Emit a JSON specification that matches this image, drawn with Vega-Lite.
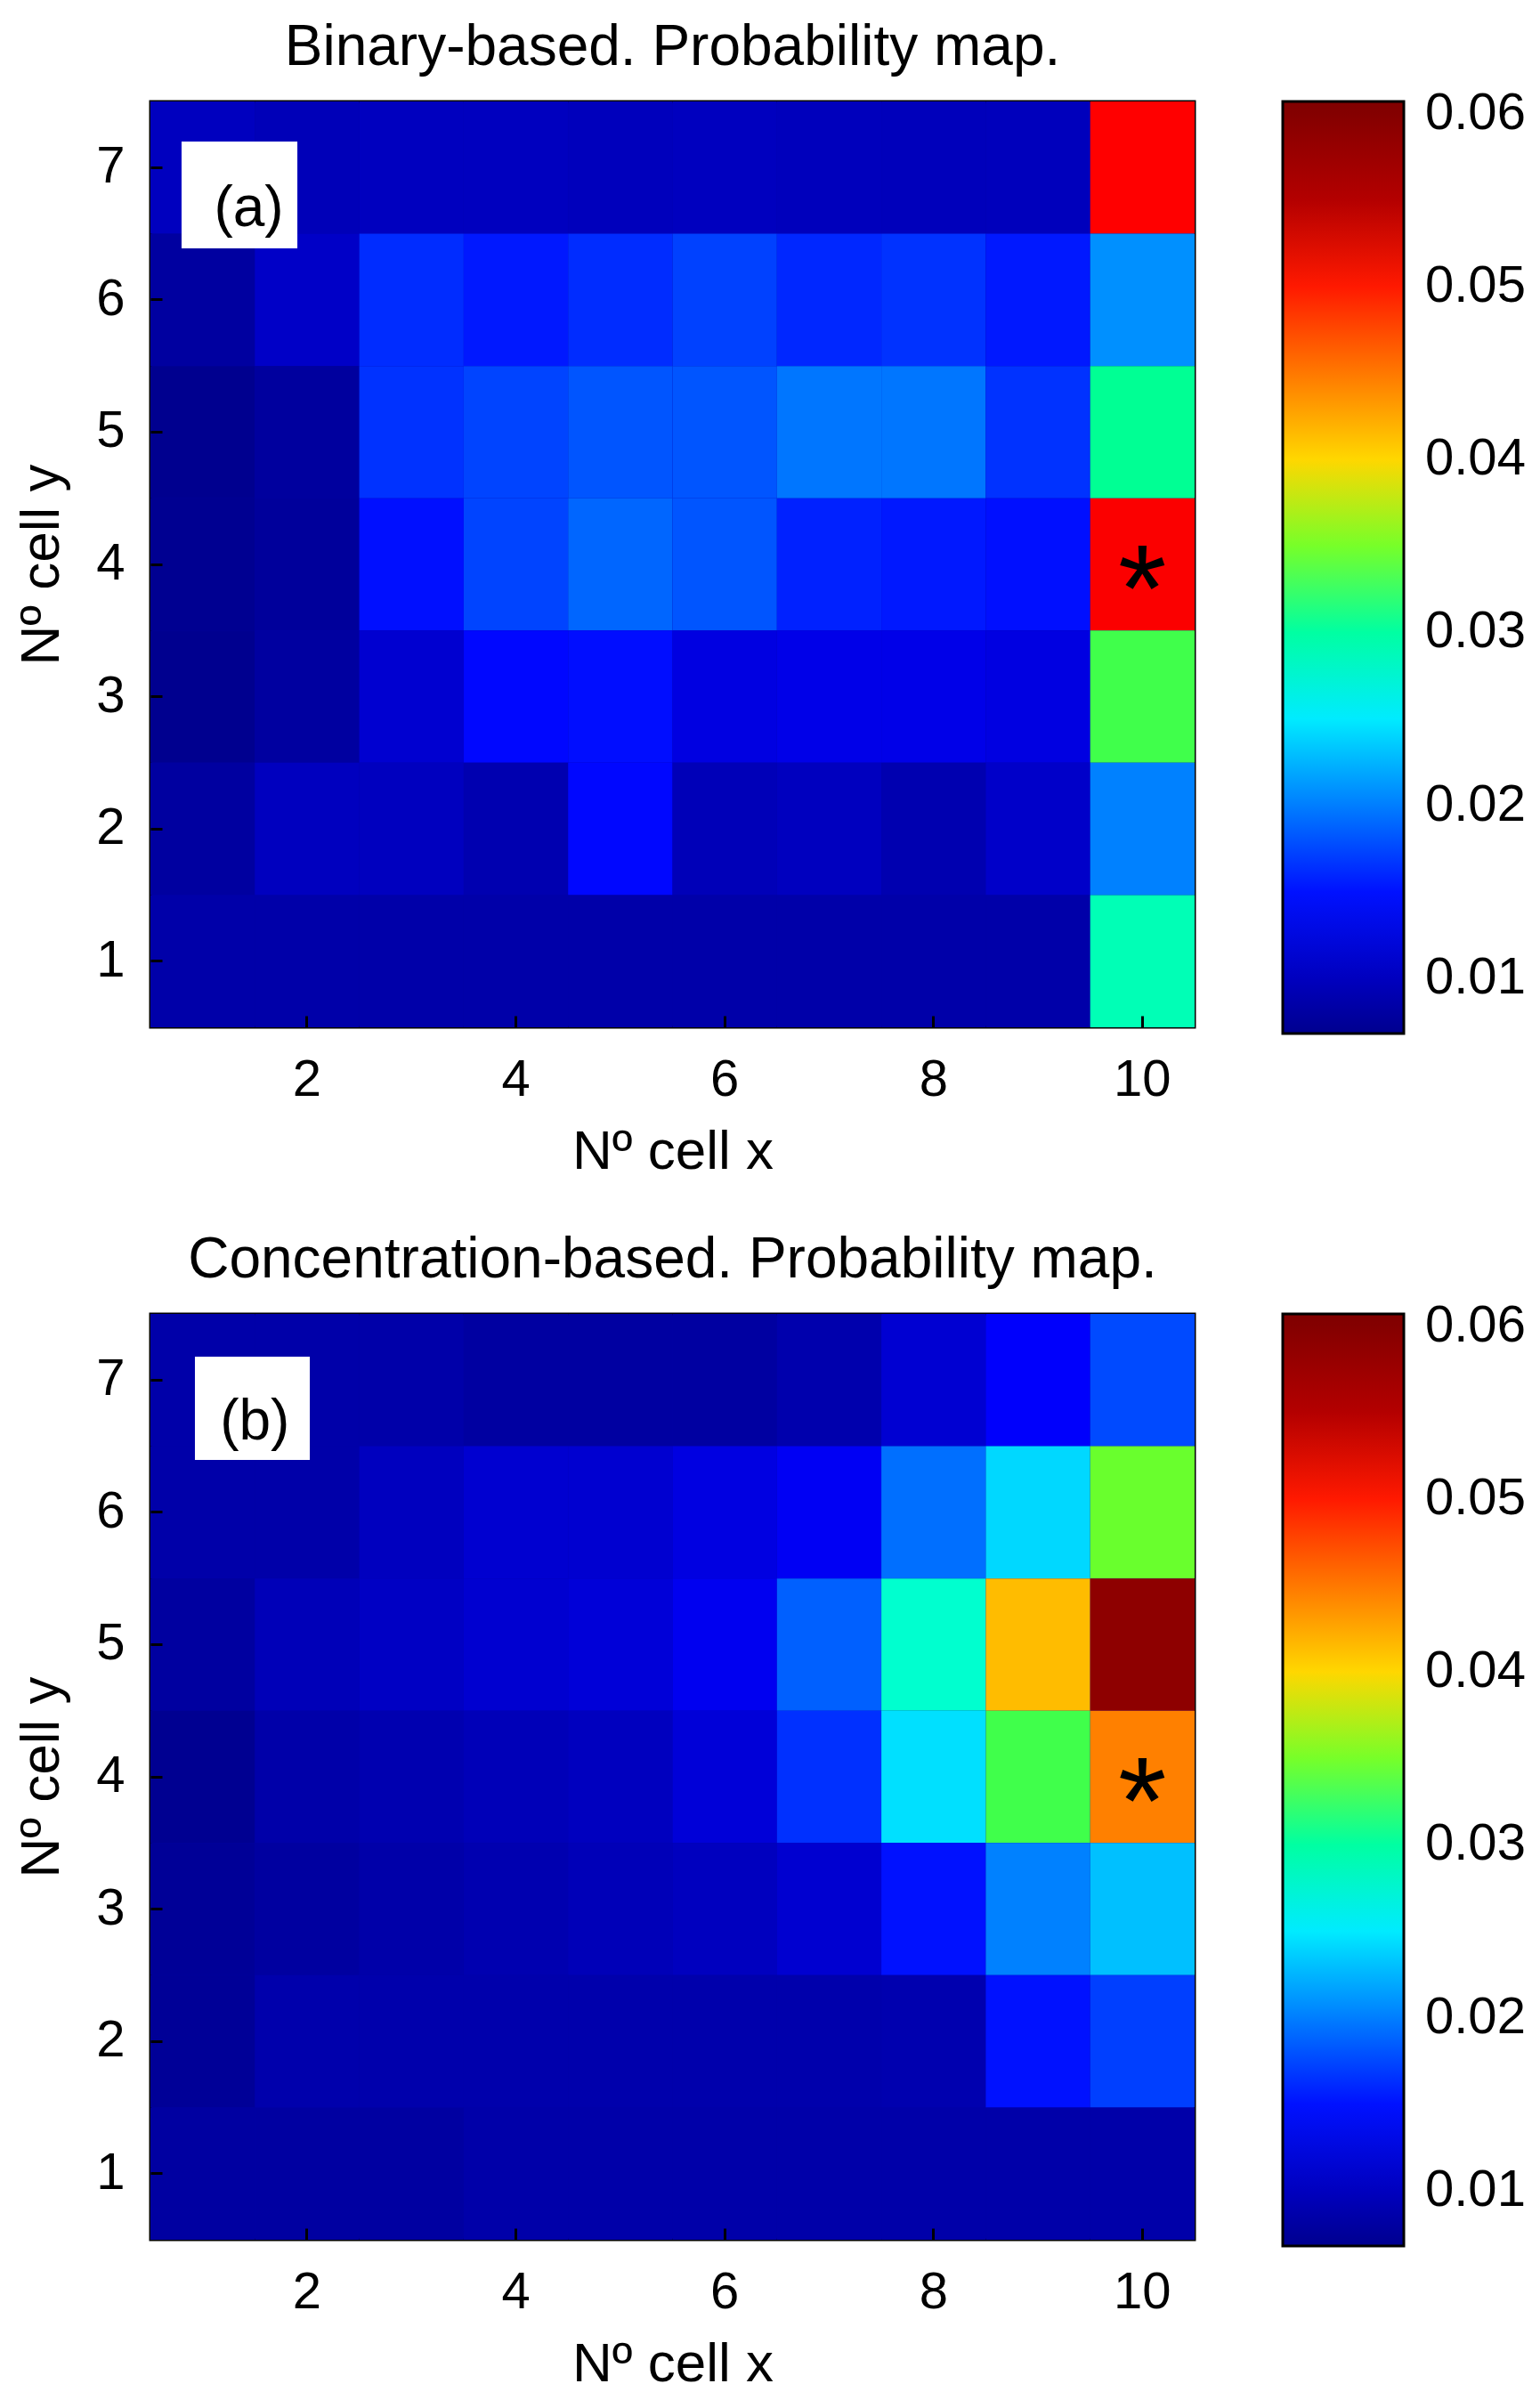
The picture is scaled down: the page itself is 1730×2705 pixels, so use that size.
{
  "$schema": "https://vega.github.io/schema/vega-lite/v6.json",
  "background": "white",
  "padding": {"left": 14, "top": 20, "right": 10, "bottom": 10},
  "spacing": 56,
  "datasets": {
    "binary": [
      {"x":1,"y":7,"p":0.0100},{"x":2,"y":7,"p":0.0095},{"x":3,"y":7,"p":0.0100},{"x":4,"y":7,"p":0.0100},{"x":5,"y":7,"p":0.0098},{"x":6,"y":7,"p":0.0100},{"x":7,"y":7,"p":0.0098},{"x":8,"y":7,"p":0.0097},{"x":9,"y":7,"p":0.0098},{"x":10,"y":7,"p":0.0513},
      {"x":1,"y":6,"p":0.0079},{"x":2,"y":6,"p":0.0105},{"x":3,"y":6,"p":0.0162},{"x":4,"y":6,"p":0.0153},{"x":5,"y":6,"p":0.0162},{"x":6,"y":6,"p":0.0172},{"x":7,"y":6,"p":0.0160},{"x":8,"y":6,"p":0.0165},{"x":9,"y":6,"p":0.0153},{"x":10,"y":6,"p":0.0208},
      {"x":1,"y":5,"p":0.0068},{"x":2,"y":5,"p":0.0078},{"x":3,"y":5,"p":0.0165},{"x":4,"y":5,"p":0.0173},{"x":5,"y":5,"p":0.0181},{"x":6,"y":5,"p":0.0181},{"x":7,"y":5,"p":0.0196},{"x":8,"y":5,"p":0.0196},{"x":9,"y":5,"p":0.0165},{"x":10,"y":5,"p":0.0306},
      {"x":1,"y":4,"p":0.0069},{"x":2,"y":4,"p":0.0076},{"x":3,"y":4,"p":0.0149},{"x":4,"y":4,"p":0.0173},{"x":5,"y":4,"p":0.0189},{"x":6,"y":4,"p":0.0181},{"x":7,"y":4,"p":0.0157},{"x":8,"y":4,"p":0.0153},{"x":9,"y":4,"p":0.0149},{"x":10,"y":4,"p":0.0515},
      {"x":1,"y":3,"p":0.0068},{"x":2,"y":3,"p":0.0079},{"x":3,"y":3,"p":0.0111},{"x":4,"y":3,"p":0.0145},{"x":5,"y":3,"p":0.0148},{"x":6,"y":3,"p":0.0122},{"x":7,"y":3,"p":0.0127},{"x":8,"y":3,"p":0.0127},{"x":9,"y":3,"p":0.0122},{"x":10,"y":3,"p":0.0335},
      {"x":1,"y":2,"p":0.0079},{"x":2,"y":2,"p":0.0100},{"x":3,"y":2,"p":0.0100},{"x":4,"y":2,"p":0.0090},{"x":5,"y":2,"p":0.0145},{"x":6,"y":2,"p":0.0095},{"x":7,"y":2,"p":0.0100},{"x":8,"y":2,"p":0.0090},{"x":9,"y":2,"p":0.0106},{"x":10,"y":2,"p":0.0201},
      {"x":1,"y":1,"p":0.0085},{"x":2,"y":1,"p":0.0085},{"x":3,"y":1,"p":0.0085},{"x":4,"y":1,"p":0.0085},{"x":5,"y":1,"p":0.0085},{"x":6,"y":1,"p":0.0085},{"x":7,"y":1,"p":0.0085},{"x":8,"y":1,"p":0.0085},{"x":9,"y":1,"p":0.0085},{"x":10,"y":1,"p":0.0291}
    ],
    "concentration": [
      {"x":1,"y":7,"p":0.0085},{"x":2,"y":7,"p":0.0085},{"x":3,"y":7,"p":0.0085},{"x":4,"y":7,"p":0.0080},{"x":5,"y":7,"p":0.0080},{"x":6,"y":7,"p":0.0080},{"x":7,"y":7,"p":0.0088},{"x":8,"y":7,"p":0.0112},{"x":9,"y":7,"p":0.0140},{"x":10,"y":7,"p":0.0176},
      {"x":1,"y":6,"p":0.0085},{"x":2,"y":6,"p":0.0085},{"x":3,"y":6,"p":0.0100},{"x":4,"y":6,"p":0.0111},{"x":5,"y":6,"p":0.0111},{"x":6,"y":6,"p":0.0122},{"x":7,"y":6,"p":0.0135},{"x":8,"y":6,"p":0.0193},{"x":9,"y":6,"p":0.0241},{"x":10,"y":6,"p":0.0347},
      {"x":1,"y":5,"p":0.0079},{"x":2,"y":5,"p":0.0095},{"x":3,"y":5,"p":0.0103},{"x":4,"y":5,"p":0.0111},{"x":5,"y":5,"p":0.0116},{"x":6,"y":5,"p":0.0132},{"x":7,"y":5,"p":0.0186},{"x":8,"y":5,"p":0.0280},{"x":9,"y":5,"p":0.0414},{"x":10,"y":5,"p":0.0580},
      {"x":1,"y":4,"p":0.0069},{"x":2,"y":4,"p":0.0085},{"x":3,"y":4,"p":0.0090},{"x":4,"y":4,"p":0.0095},{"x":5,"y":4,"p":0.0100},{"x":6,"y":4,"p":0.0116},{"x":7,"y":4,"p":0.0164},{"x":8,"y":4,"p":0.0245},{"x":9,"y":4,"p":0.0335},{"x":10,"y":4,"p":0.0446},
      {"x":1,"y":3,"p":0.0073},{"x":2,"y":3,"p":0.0079},{"x":3,"y":3,"p":0.0085},{"x":4,"y":3,"p":0.0090},{"x":5,"y":3,"p":0.0095},{"x":6,"y":3,"p":0.0100},{"x":7,"y":3,"p":0.0111},{"x":8,"y":3,"p":0.0150},{"x":9,"y":3,"p":0.0201},{"x":10,"y":3,"p":0.0230},
      {"x":1,"y":2,"p":0.0073},{"x":2,"y":2,"p":0.0087},{"x":3,"y":2,"p":0.0087},{"x":4,"y":2,"p":0.0087},{"x":5,"y":2,"p":0.0087},{"x":6,"y":2,"p":0.0087},{"x":7,"y":2,"p":0.0087},{"x":8,"y":2,"p":0.0089},{"x":9,"y":2,"p":0.0150},{"x":10,"y":2,"p":0.0171},
      {"x":1,"y":1,"p":0.0080},{"x":2,"y":1,"p":0.0080},{"x":3,"y":1,"p":0.0080},{"x":4,"y":1,"p":0.0085},{"x":5,"y":1,"p":0.0085},{"x":6,"y":1,"p":0.0085},{"x":7,"y":1,"p":0.0085},{"x":8,"y":1,"p":0.0085},{"x":9,"y":1,"p":0.0085},{"x":10,"y":1,"p":0.0085}
    ]
  },
  "config": {
    "font": "Liberation Sans",
    "view": {"stroke": "black", "strokeWidth": 3, "fill": "#0000a4"},
    "title": {"fontSize": 64, "font": "Liberation Sans", "fontWeight": "normal", "color": "black", "anchor": "middle", "frame": "group", "baseline": "alphabetic", "offset": 27},
    "axis": {"labelFontSize": 58, "titleFontSize": 62, "labelFont": "Liberation Sans", "titleFont": "Liberation Sans", "titleFontWeight": "normal", "labelColor": "black", "titleColor": "black", "grid": false, "domain": false, "tickColor": "black", "tickWidth": 3, "tickSize": -13, "labelAngle": 0},
    "axisX": {"labelPadding": 43, "titlePadding": 21},
    "axisY": {"labelPadding": 42, "titlePadding": 29},
    "legend": {"gradientLength": 1047, "gradientThickness": 136, "gradientStrokeColor": "black", "gradientStrokeWidth": 3, "labelFontSize": 58, "labelFont": "Liberation Sans", "labelColor": "black", "labelOffset": 22, "offset": 97, "padding": 0, "labelOverlap": false}
  },
  "resolve": {"scale": {"color": "independent"}},
  "vconcat": [
    {
      "title": "Binary-based. Probability map.",
      "width": 1173,
      "height": 1040,
      "layer": [
        {
          "data": {"name": "binary"},
          "mark": "rect",
          "encoding": {
            "x": {"field": "x", "type": "ordinal", "scale": {"paddingInner": 0, "paddingOuter": 0}, "axis": {"values": [2,4,6,8,10], "title": "Nº cell x"}},
            "y": {"field": "y", "type": "ordinal", "sort": "descending", "scale": {"paddingInner": 0, "paddingOuter": 0}, "axis": {"title": "Nº cell y"}},
            "color": {"field": "p", "type": "quantitative",
              "scale": {"domain": [0.0068, 0.0142, 0.0259, 0.0315, 0.0345, 0.0379, 0.0513, 0.0565, 0.0607], "range": ["#00008f","#0000ff","#00ffff","#00ff80","#60ff30","#ffff00","#ff0000","#960000","#800000"], "interpolate": "rgb"},
              "legend": {"title": null, "values": [0.01,0.02,0.03,0.04,0.05,0.06], "format": ".2f", "direction": "vertical", "orient": "right", "labelOffset": 24}}
          }
        },
        {
          "layer": [
            {
              "data": {"values": [{"x1": 0.798, "x2": 1.907, "y1": 7.197, "y2": 6.389}]},
              "mark": {"type": "rect", "fill": "white"},
              "encoding": {
                "x": {"field": "x1", "type": "quantitative", "scale": {"domain": [0.5, 10.5], "nice": false, "zero": false}, "axis": {"orient": "top", "values": [2,4,6,8,10], "labels": false, "title": null}},
                "x2": {"field": "x2"},
                "y": {"field": "y1", "type": "quantitative", "scale": {"domain": [0.5, 7.5], "nice": false, "zero": false}, "axis": {"orient": "right", "values": [1,2,3,4,5,6,7], "labels": false, "title": null}},
                "y2": {"field": "y2"}
              }
            },
            {
              "data": {"values": [{"tx": 1.442, "ty": 6.686, "label": "(a)"}]},
              "mark": {"type": "text", "fontSize": 64, "baseline": "middle", "align": "center", "color": "black"},
              "encoding": {
                "x": {"field": "tx", "type": "quantitative"},
                "y": {"field": "ty", "type": "quantitative"},
                "text": {"field": "label"}
              }
            },
            {
              "data": {"values": [{"tx": 10, "ty": 4, "label": "*"}]},
              "mark": {"type": "text", "fontSize": 140, "baseline": "middle", "align": "center", "dy": 33, "color": "black"},
              "encoding": {
                "x": {"field": "tx", "type": "quantitative"},
                "y": {"field": "ty", "type": "quantitative"},
                "text": {"field": "label"}
              }
            }
          ]
        }
      ],
      "resolve": {"scale": {"x": "independent", "y": "independent"}}
    },
    {
      "title": "Concentration-based. Probability map.",
      "width": 1173,
      "height": 1040,
      "layer": [
        {
          "data": {"name": "concentration"},
          "mark": "rect",
          "encoding": {
            "x": {"field": "x", "type": "ordinal", "scale": {"paddingInner": 0, "paddingOuter": 0}, "axis": {"values": [2,4,6,8,10], "title": "Nº cell x"}},
            "y": {"field": "y", "type": "ordinal", "sort": "descending", "scale": {"paddingInner": 0, "paddingOuter": 0}, "axis": {"title": "Nº cell y"}},
            "color": {"field": "p", "type": "quantitative",
              "scale": {"domain": [0.0068, 0.0142, 0.0259, 0.0315, 0.0345, 0.0379, 0.0513, 0.0565, 0.0607], "range": ["#00008f","#0000ff","#00ffff","#00ff80","#60ff30","#ffff00","#ff0000","#960000","#800000"], "interpolate": "rgb"},
              "legend": {"title": null, "values": [0.01,0.02,0.03,0.04,0.05,0.06], "format": ".2f", "direction": "vertical", "orient": "right", "labelOffset": 24}}
          }
        },
        {
          "layer": [
            {
              "data": {"values": [{"x1": 0.926, "x2": 2.026, "y1": 7.177, "y2": 6.396}]},
              "mark": {"type": "rect", "fill": "white"},
              "encoding": {
                "x": {"field": "x1", "type": "quantitative", "scale": {"domain": [0.5, 10.5], "nice": false, "zero": false}, "axis": {"orient": "top", "values": [2,4,6,8,10], "labels": false, "title": null}},
                "x2": {"field": "x2"},
                "y": {"field": "y1", "type": "quantitative", "scale": {"domain": [0.5, 7.5], "nice": false, "zero": false}, "axis": {"orient": "right", "values": [1,2,3,4,5,6,7], "labels": false, "title": null}},
                "y2": {"field": "y2"}
              }
            },
            {
              "data": {"values": [{"tx": 1.50, "ty": 6.68, "label": "(b)"}]},
              "mark": {"type": "text", "fontSize": 64, "baseline": "middle", "align": "center", "color": "black"},
              "encoding": {
                "x": {"field": "tx", "type": "quantitative"},
                "y": {"field": "ty", "type": "quantitative"},
                "text": {"field": "label"}
              }
            },
            {
              "data": {"values": [{"tx": 10, "ty": 4, "label": "*"}]},
              "mark": {"type": "text", "fontSize": 140, "baseline": "middle", "align": "center", "dy": 33, "color": "black"},
              "encoding": {
                "x": {"field": "tx", "type": "quantitative"},
                "y": {"field": "ty", "type": "quantitative"},
                "text": {"field": "label"}
              }
            }
          ]
        }
      ],
      "resolve": {"scale": {"x": "independent", "y": "independent"}}
    }
  ]
}
